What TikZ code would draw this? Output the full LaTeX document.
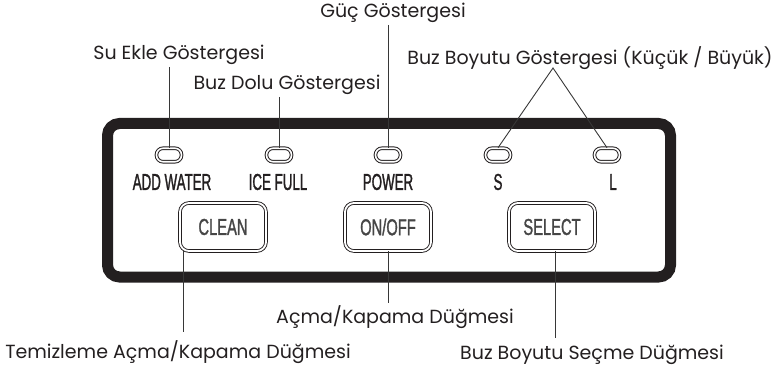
\documentclass[tikz,border=0pt]{standalone}
\usepackage{fontspec}
\setmainfont{Poppins}
\newfontfamily\panelfont[FakeStretch=0.58, FakeBold=1.2]{Liberation Sans}
\newfontfamily\buttonfont[FakeStretch=0.64, FakeBold=1.2]{Liberation Sans}
\definecolor{Ink}{RGB}{35, 31, 32}
\definecolor{Leader}{RGB}{55, 55, 55}
\definecolor{KeyGray}{RGB}{70, 70, 70}
\usetikzlibrary{calc}

\begin{document}
\begin{tikzpicture}[x=1pt, y=-1pt,
    callout/.style={font=\fontsize{19}{19}\selectfont, text=Ink, inner sep=2pt},
    leader/.style={Leader, line width=0.9pt},
    lamp/.style={draw=Ink, double=white, double distance=1.6pt, line width=1pt,
        rounded corners=6.5pt, minimum width=25pt, minimum height=13.5pt, inner sep=0pt},
    keycap/.style={font=\panelfont\fontsize{23}{23}\selectfont, text=Ink, inner sep=0pt},
    pushbutton/.style={draw=Ink, double=white, double distance=1.8pt, line width=0.9pt,
        rounded corners=9pt, minimum width=86pt, minimum height=48pt, inner sep=0pt,
        font=\buttonfont\fontsize{23}{23}\selectfont, text=KeyGray}]
    \useasboundingbox (0,0) rectangle (778,366);
    % Control panel frame
    \draw[Ink, line width=11pt, rounded corners=12pt] (107.5,123.5) rectangle (670.5,277);
    % Indicator lamps with their printed names
    \foreach \nm/\x/\lx/\txt in {water/169/172/ADD WATER, icefull/279/278/ICE FULL,
        power/388/388/POWER, small/498/498/S, large/607/613/L} {
        \node[lamp] (led\nm) at (\x,155) {};
        \node[keycap] (cap\nm) at (\lx,182) {\txt};
    }
    % Push buttons
    \node[pushbutton] (clean) at (223,227) {CLEAN};
    \node[pushbutton] (onoff) at (388,227) {ON/OFF};
    \node[pushbutton] (select) at (552,227) {SELECT};
    % Callout texts
    \node[callout] (guc) at (393,13) {Güç Göstergesi};
    \node[callout] (suekle) at (179,55) {Su Ekle Göstergesi};
    \node[callout] (buzdolu) at (287,85) {Buz Dolu Göstergesi};
    \node[callout] (boyut) at (590,58) {Buz Boyutu Göstergesi (Küçük / Büyük)};
    \node[callout] (acma) at (395,317) {Açma/Kapama Düğmesi};
    \node[callout] (temiz) at (178,352) {Temizleme Açma/Kapama Düğmesi};
    \node[callout] (secme) at (592,355) {Buz Boyutu Seçme Düğmesi};
    % Leader lines to the lamps
    \draw[leader] (ledpower.north |- guc.south) -- (ledpower.north);
    \draw[leader] (ledwater.north |- suekle.south) -- (ledwater.north);
    \draw[leader] (ledicefull.north |- buzdolu.south) -- (ledicefull.north);
    \coordinate (apex) at (553,68);
    \draw[leader] (ledsmall.north) -- (apex) -- (ledlarge.north);
    % Leader lines from the buttons
    \coordinate (cleanend) at (183,332);
    \coordinate (selectend) at (555,338);
    \draw[leader] (clean.south -| cleanend) -- (cleanend);
    \draw[leader] (onoff.south) -- (onoff.south |- acma.north);
    \draw[leader] (select.south -| selectend) -- (selectend);
\end{tikzpicture}
\end{document}
